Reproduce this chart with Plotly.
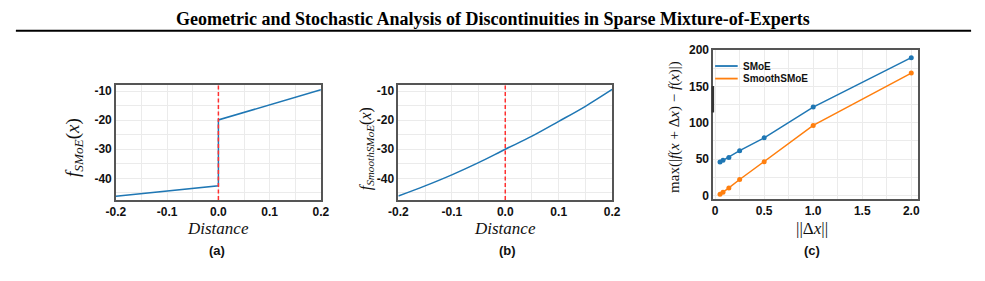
import plotly.graph_objects as go

# ---------------- data ----------------
dist_a = [-0.2, 0.0, 0.0, 0.2]
f_smoe = [-46.2, -42.6, -19.9, -9.5]

dist_b = [-0.2, -0.15, -0.1, -0.05, 0.0, 0.05, 0.1, 0.15, 0.2]
f_smooth = [-46.1, -42.6, -38.8, -34.6, -30.0, -25.5, -20.4, -15.2, -9.4]

delta_x = [0.05, 0.08, 0.14, 0.25, 0.5, 1.0, 2.0]
max_smoe = [46.0, 48.3, 52.3, 61.6, 79.3, 121.6, 189.6]
max_smooth = [1.6, 4.3, 10.4, 22.0, 46.4, 96.3, 168.3]

xticks_ab = [-0.2, -0.1, 0.0, 0.1, 0.2]
xticklabels_ab = ["-0.2", "-0.1", "0.0", "0.1", "0.2"]
yticks_ab = [-40, -30, -20, -10]
yticklabels_ab = ["-40", "-30", "-20", "-10"]
xticks_c = [0, 0.5, 1.0, 1.5, 2.0]
xticklabels_c = ["0", "0.5", "1.0", "1.5", "2.0"]
yticks_c = [0, 50, 100, 150, 200]
yticklabels_c = ["0", "50", "100", "150", "200"]

series_names = ["SMoE", "SmoothSMoE"]
BLUE = "#1f77b4"
ORANGE = "#ff7f0e"

W, H = 985, 281


def px(x):
    return x / W


def py(y):
    return 1 - y / H


fig = go.Figure()

fig.add_trace(go.Scatter(x=dist_a, y=f_smoe, mode="lines", line=dict(color=BLUE, width=1.5),
                         xaxis="x", yaxis="y", showlegend=False, name="SMoE"))
fig.add_trace(go.Scatter(x=dist_b, y=f_smooth, mode="lines", line=dict(color=BLUE, width=1.5, shape="spline"),
                         xaxis="x2", yaxis="y2", showlegend=False, name="SmoothSMoE"))
fig.add_trace(go.Scatter(x=delta_x, y=max_smoe, mode="lines+markers", line=dict(color=BLUE, width=1.5),
                         marker=dict(size=5, color=BLUE), xaxis="x3", yaxis="y3", showlegend=False,
                         name=series_names[0]))
fig.add_trace(go.Scatter(x=delta_x, y=max_smooth, mode="lines+markers", line=dict(color=ORANGE, width=1.5),
                         marker=dict(size=5, color=ORANGE), xaxis="x3", yaxis="y3", showlegend=False,
                         name=series_names[1]))

tickfont = dict(family="Liberation Sans", size=12, color="#111", weight="bold")
GRID = "#ebebeb"
FRAME = "#555"

common = dict(showline=True, linecolor=FRAME, linewidth=1.5, mirror=True, ticks="",
              showgrid=True, gridcolor=GRID, gridwidth=1, zeroline=False, tickfont=tickfont)

fig.update_layout(
    width=W, height=H, margin=dict(l=0, r=0, t=0, b=0),
    paper_bgcolor="white", plot_bgcolor="white",
    xaxis=dict(domain=[px(108), px(317)], range=[-0.2, 0.2], tickvals=xticks_ab, ticktext=xticklabels_ab,
               minor=dict(dtick=0.05, showgrid=True, gridcolor=GRID), anchor="y", **common),
    yaxis=dict(domain=[py(200.5), py(82)], range=[-47.5, -8], tickvals=yticks_ab, ticktext=yticklabels_ab,
               minor=dict(dtick=5, showgrid=True, gridcolor=GRID), anchor="x", **common),
    xaxis2=dict(domain=[px(396), px(614)], range=[-0.2, 0.2], tickvals=xticks_ab, ticktext=xticklabels_ab,
                minor=dict(dtick=0.05, showgrid=True, gridcolor=GRID), anchor="y2", **common),
    yaxis2=dict(domain=[py(200.5), py(82)], range=[-47.5, -8], tickvals=yticks_ab, ticktext=yticklabels_ab,
                minor=dict(dtick=5, showgrid=True, gridcolor=GRID), anchor="x2", **common),
    xaxis3=dict(domain=[px(717), px(926)], range=[-0.02, 2.07], tickvals=xticks_c, ticktext=xticklabels_c,
                minor=dict(dtick=0.25, showgrid=True, gridcolor=GRID), anchor="y3", **common),
    yaxis3=dict(domain=[py(199.5), py(45)], range=[-5, 200.7], tickvals=yticks_c, ticktext=yticklabels_c,
                minor=dict(dtick=25, showgrid=True, gridcolor=GRID), anchor="x3", **common),
)

# red dashed discontinuity markers at distance 0
for xr, yr in [("x", "y"), ("x2", "y2")]:
    fig.add_shape(type="line", xref=xr, yref=yr + " domain",
                  x0=0, x1=0, y0=0, y1=1, line=dict(color="#ff3030", width=1.5, dash="4px,2.5px"))

# header rule
fig.add_shape(type="line", xref="paper", yref="paper", x0=px(6), x1=px(980), y0=py(25.5), y1=py(25.5),
              line=dict(color="black", width=2))
# dark segment on panel (c) y axis
fig.add_shape(type="line", xref="paper", yref="paper", x0=px(716.7), x1=px(716.7), y0=py(82.7), y1=py(110),
              line=dict(color="#333", width=2.5))

# manual legend in panel (c)
leg_y = [62, 75]
leg_col = [BLUE, ORANGE]
for name, yy, col in zip(series_names, leg_y, leg_col):
    fig.add_shape(type="line", xref="paper", yref="paper", x0=px(719), x1=px(742), y0=py(yy), y1=py(yy),
                  line=dict(color=col, width=1.8))
    fig.add_annotation(text=name, xref="paper", yref="paper", x=px(745), y=py(yy), xanchor="left",
                       yanchor="middle", showarrow=False,
                       font=dict(family="Liberation Sans", size=10, color="#111", weight="bold"))

ann = []
ann.append(dict(text="<b>Geometric and Stochastic Analysis of Discontinuities in Sparse Mixture-of-Experts</b>",
                x=px(492), y=py(13), font=dict(family="Liberation Serif", size=18, color="black")))
serif_it = dict(family="Liberation Serif", size=17, color="#111")
ann.append(dict(text="<i>Distance</i>", x=px(212), y=py(229.5), font=serif_it))
ann.append(dict(text="<i>Distance</i>", x=px(505), y=py(229.5), font=serif_it))
ann.append(dict(text="||Δ<i>x</i>||", x=px(818), y=py(229.5), font=serif_it))
ann.append(dict(text="<i>f</i><sub><i>SMoE</i></sub>(<i>x</i>)", x=px(66), y=py(146), textangle=-90,
                font=dict(family="Liberation Serif", size=19, color="#111")))
ann.append(dict(text="<i>f</i><sub><i>SmoothSMoE</i></sub>(<i>x</i>)", x=px(363), y=py(147), textangle=-90,
                font=dict(family="Liberation Serif", size=16, color="#111")))
ann.append(dict(text="max(|<i>f</i>(<i>x</i> + Δ<i>x</i>) − <i>f</i>(<i>x</i>)|)", x=px(678), y=py(125),
                textangle=-90, font=dict(family="Liberation Serif", size=15, color="#111")))
for lab, xx in zip(["(a)", "(b)", "(c)"], [211, 507, 818]):
    ann.append(dict(text=lab, x=px(xx), y=py(253),
                    font=dict(family="Liberation Sans", size=13, color="#111", weight="bold")))

for a in ann:
    fig.add_annotation(xref="paper", yref="paper", xanchor="center", yanchor="middle", showarrow=False, **a)

fig.write_html("out.html")
